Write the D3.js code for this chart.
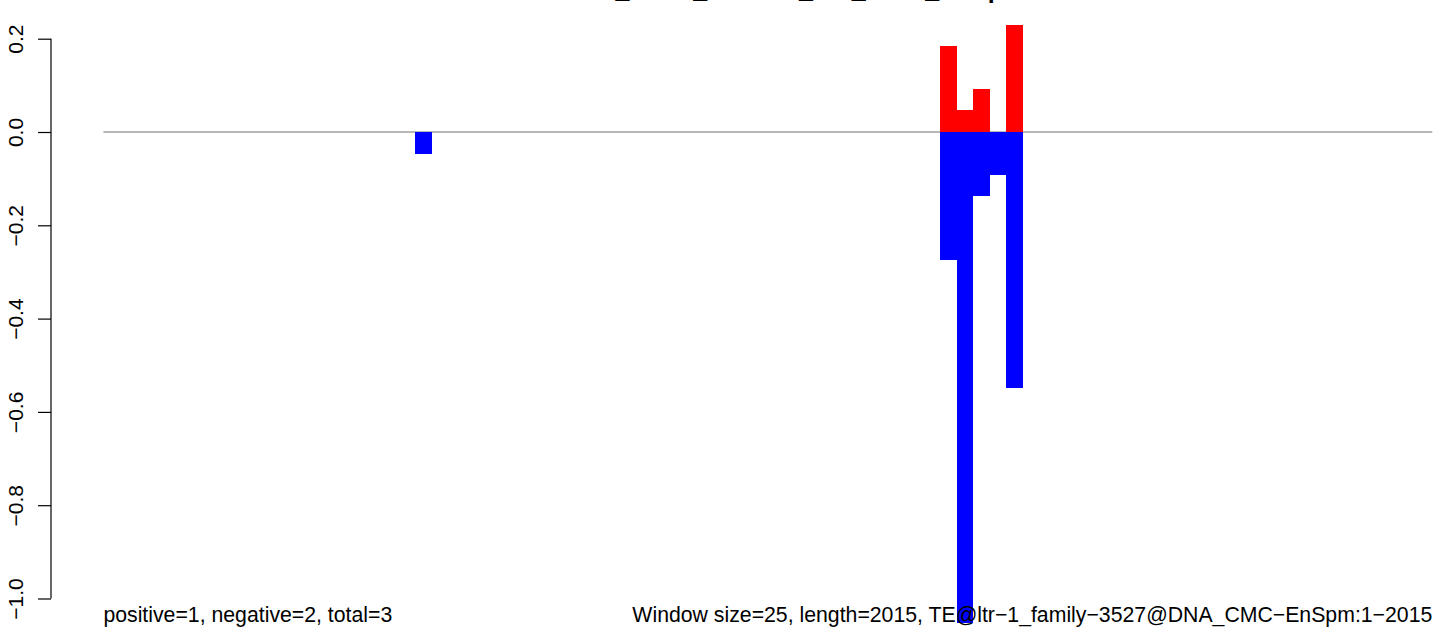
<!DOCTYPE html>
<html>
<head>
<meta charset="utf-8">
<script src="https://cdn.jsdelivr.net/npm/d3@7"></script>
<style>
html,body{margin:0;padding:0;background:#fff;overflow:hidden;}
svg{display:block;}
text{font-family:"Liberation Sans",Arial,Helvetica,sans-serif;}
</style>
</head>
<body>
<svg id="chart" width="1444" height="644"></svg>
<script>
// ---- data ----
const windowSize = 25;
const seqLength = 2015;
const nWindows = 81;
const posWindows = [51, 52, 53, 55];
const posValues  = [0.185, 0.048, 0.092, 0.229];
const negWindows = [19, 51, 52, 53, 54, 55];
const negValues  = [-0.047, -0.274, -1.052, -0.137, -0.092, -0.548];
const yTicks = [-1.0, -0.8, -0.6, -0.4, -0.2, 0.0, 0.2];
const titleText = "GSM12345_H3K4_Mock01_WT_TE25_win.pdf";
const leftNote = "positive=1, negative=2, total=3";
const rightNote = "Window size=25, length=2015, TE@ltr\u22121_family\u22123527@DNA_CMC\u2212EnSpm:1\u22122015";

// ---- layout ----
const W = 1444, H = 644;
const svg = d3.select("#chart");
const x = d3.scaleLinear().domain([0, nWindows * windowSize]).range([103.4, 1432.3]);
const y = d3.scaleLinear().domain([-1.0, 0.2]).range([598.5, 38.7]);
const axisX = 51;

// zero line
svg.append("line")
  .attr("x1", x(0)).attr("x2", x(nWindows * windowSize))
  .attr("y1", y(0)).attr("y2", y(0))
  .attr("stroke", "#a0a0a0").attr("stroke-width", 1.3);

const pos = posWindows.map((w, i) => ({w, v: posValues[i]}));
const neg = negWindows.map((w, i) => ({w, v: negValues[i]}));

svg.append("g").attr("shape-rendering", "crispEdges").selectAll("rect").data(pos).join("rect")
  .attr("x", d => x(d.w * windowSize))
  .attr("width", d => x((d.w + 1) * windowSize) - x(d.w * windowSize) + 0.5)
  .attr("y", d => y(d.v))
  .attr("height", d => y(0) - y(d.v))
  .attr("fill", "#ff0000");

svg.append("g").attr("shape-rendering", "crispEdges").selectAll("rect").data(neg).join("rect")
  .attr("x", d => x(d.w * windowSize))
  .attr("width", d => x((d.w + 1) * windowSize) - x(d.w * windowSize) + 0.5)
  .attr("y", y(0))
  .attr("height", d => y(d.v) - y(0))
  .attr("fill", "#0000ff");

// y axis
const yAxis = d3.axisLeft(y).tickValues(yTicks).tickSize(13).tickPadding(14)
  .tickFormat(d3.format(".1f"));
const ga = svg.append("g").attr("transform", `translate(${axisX},0)`).call(yAxis);
ga.select(".domain").attr("d", `M0,${y(0.2)}V${y(-1.0)}`).attr("stroke", "#000").attr("stroke-width", 1.2);
ga.selectAll(".tick line").attr("stroke", "#000").attr("stroke-width", 1.2);
ga.selectAll(".tick text")
  .attr("x", null).attr("dy", null)
  .attr("transform", "translate(-28,0) rotate(-90)")
  .attr("text-anchor", "middle")
  .attr("font-size", 21)
  .attr("fill", "#000")
  .attr("font-family", "Liberation Sans, Arial, sans-serif");

// bottom notes
svg.append("text")
  .attr("x", x(0)).attr("y", y(-1.052) - 1)
  .attr("text-anchor", "start")
  .attr("font-size", 21.25).attr("fill", "#000")
  .text(leftNote);
svg.append("text")
  .attr("x", x(nWindows * windowSize)).attr("y", y(-1.052) - 1)
  .attr("text-anchor", "end")
  .attr("font-size", 21.25).attr("fill", "#000")
  .text(rightNote);

// title (mostly above the visible area, as in the reference)
svg.append("text")
  .attr("x", (x(0) + x(nWindows * windowSize)) / 2 - 10)
  .attr("y", -1.8)
  .attr("text-anchor", "middle")
  .attr("font-size", 25).attr("font-weight", "bold").attr("fill", "#000")
  .text(titleText);
</script>
</body>
</html>
